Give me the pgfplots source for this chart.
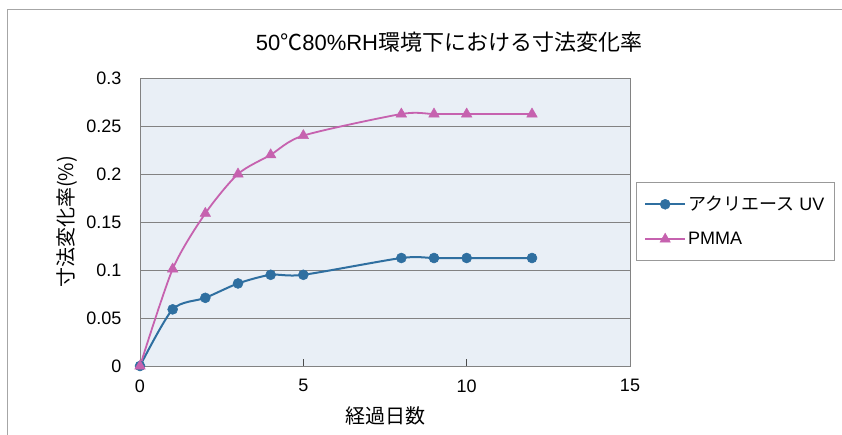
\documentclass[border=0pt]{standalone}
\usepackage{pgfplots}
\pgfplotsset{compat=1.18}
\usepackage{fontspec}
\setmainfont{Liberation Sans}
\newfontfamily\cjk{Noto Sans CJK JP}
\definecolor{acblue}{RGB}{47,111,160}
\definecolor{pmpink}{RGB}{198,98,175}
\definecolor{bgarea}{RGB}{233,239,246}
\definecolor{gridc}{RGB}{130,130,130}
\begin{document}
\begin{tikzpicture}
\useasboundingbox (0pt,0pt) rectangle (842pt,434pt);
\draw[gray!70, line width=1pt] (7pt,-5pt) -- (7pt,424pt) -- (850pt,424pt);
\node[font=\fontsize{22}{24}\selectfont] at (449pt,392pt) {50{\cjk ℃}80\%RH{\cjk 環境下における寸法変化率}};
\begin{axis}[
  at={(140pt,68pt)}, anchor=south west,
  scale only axis, width=490pt, height=288pt,
  xmin=0, xmax=15, ymin=0, ymax=0.3,
  xtick={0,5,10,15}, ytick={0,0.05,0.1,0.15,0.2,0.25,0.3},
  yticklabels={0,0.05,0.1,0.15,0.2,0.25,0.3},
  xticklabels={0,5,10,15},
  axis background/.style={fill=bgarea},
  axis line style={gridc, line width=0.8pt},
  ymajorgrids, major grid style={gridc, line width=0.8pt},
  tick style={black!70, line width=0.8pt},
  ytick style={draw=none},
  xtick pos=bottom, ytick pos=left,
  xtick align=inside,
  major tick length=7pt,
  tick label style={font=\fontsize{18}{20}\selectfont},
  xticklabel style={yshift=-10pt},
  yticklabel style={xshift=-15pt},
  xlabel={\cjk 経過日数},
  ylabel={\cjk 寸法変化率(\%)},
  label style={font=\fontsize{20}{22}\selectfont},
  xlabel style={yshift=-8pt},
  ylabel style={yshift=2pt},
  clip=false,
  legend style={at={(1.012,0.639)}, anchor=north west, draw=gray!80, line width=0.6pt,
    font=\fontsize{18}{20}\selectfont, inner xsep=8pt, inner ysep=12pt, row sep=16pt,
    legend cell align=left},
  legend image code/.code={
    \draw[#1] (0pt,0pt) -- (40pt,0pt);
    \draw[#1, only marks] plot coordinates {(20pt,0pt)};
  },
]
\addplot[acblue, line width=2pt, smooth, tension=0.45, mark=*, mark size=5pt, mark options={fill=acblue, line width=0.5pt}]
coordinates {(0,0) (1,0.059) (2,0.071) (3,0.086) (4,0.095) (5,0.095) (8,0.1125) (9,0.1125) (10,0.1125) (12,0.1125)};
\addlegendentry{{\cjk アクリエース} UV}
\addplot[pmpink, line width=1.8pt, smooth, tension=0.45, mark=triangle*, mark size=6pt, mark options={fill=pmpink, line width=0.5pt}]
coordinates {(0,0) (1,0.101) (2,0.159) (3,0.2) (4,0.22) (5,0.24) (8,0.2625) (9,0.2625) (10,0.2625) (12,0.2625)};
\addlegendentry{PMMA}
\end{axis}
\end{tikzpicture}
\end{document}
